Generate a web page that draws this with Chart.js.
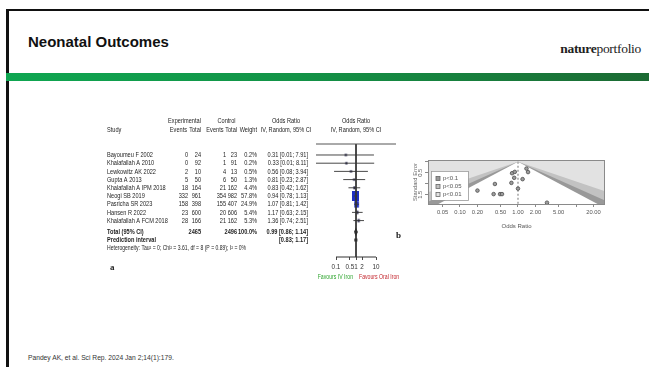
<!DOCTYPE html>
<html>
<head>
<meta charset="utf-8">
<title>Neonatal Outcomes</title>
<script src="https://cdn.jsdelivr.net/npm/chart.js@4.4.1/dist/chart.umd.min.js"></script>
<style>
  html, body { margin: 0; padding: 0; background: #fff; width: 649px; height: 367px; overflow: hidden; }
  #slide { position: relative; width: 649px; height: 367px; font-family: "Liberation Sans", Arial, sans-serif; }
  .frame-top { position: absolute; left: 6px; top: 9px; width: 643px; height: 2px; background: #111; }
  .frame-left { position: absolute; left: 6px; top: 9px; width: 3px; height: 358px; background: #111; }
  h1 { position: absolute; left: 28px; top: 33px; margin: 0; font: bold 15px "Liberation Sans", Arial, sans-serif; color: #111; }
  .logo { position: absolute; right: 8px; top: 41px; font: 13.5px "Liberation Serif", "Times New Roman", serif; color: #222; letter-spacing: -0.3px; }
  .logo b { font-weight: bold; }
  .bar { position: absolute; left: 6px; top: 73px; width: 643px; height: 8px; background: linear-gradient(90deg, #0fa651 0%, #139347 45%, #1c6a33 100%); }
  canvas { position: absolute; }
  #forest { left: 100px; top: 110px; }
  #funnel { left: 395px; top: 150px; }
  .tag { position: absolute; font: bold 9px "Liberation Serif", "Times New Roman", serif; color: #222; }
  .cite { position: absolute; left: 28px; top: 354px; font: 6.7px "Liberation Sans", Arial, sans-serif; color: #333; }
</style>
</head>
<body>
<div id="slide">
  <div class="frame-top"></div>
  <div class="frame-left"></div>
  <h1>Neonatal Outcomes</h1>
  <div class="logo"><b>nature</b>portfolio</div>
  <div class="bar"></div>
  <canvas id="forest" width="310" height="190"></canvas>
  <canvas id="funnel" width="220" height="81"></canvas>
  <div class="tag" style="left:110px; top:262px;">a</div>
  <div class="tag" style="left:396px; top:230px;">b</div>
  <div class="cite">Pandey AK, et al. Sci Rep. 2024 Jan 2;14(1):179.</div>
</div>

<script>
// ---- forest plot data (IV iron vs oral iron) ----
const studyNames = ["Bayoumeu F 2002", "Khalafallah A 2010", "Lewkowitz AK 2022", "Gupta A 2013",
  "Khalafallah A IPM 2018", "Neogi SB 2019", "Pasricha SR 2023", "Hansen R 2022", "Khalafallah A FCM 2018"];
const expEvents  = [0, 0, 2, 5, 18, 332, 158, 23, 28];
const expTotal   = [24, 92, 10, 50, 164, 961, 398, 600, 166];
const ctrlEvents = [1, 1, 4, 6, 21, 354, 155, 20, 21];
const ctrlTotal  = [23, 91, 13, 50, 162, 982, 407, 606, 162];
const weightPct  = [0.2, 0.2, 0.5, 1.3, 4.4, 57.8, 24.9, 5.4, 5.3];
const oddsRatio  = [0.31, 0.33, 0.56, 0.81, 0.83, 0.94, 1.07, 1.17, 1.36];
const ciLower    = [0.01, 0.01, 0.08, 0.23, 0.42, 0.78, 0.81, 0.63, 0.74];
const ciUpper    = [7.91, 8.11, 3.94, 2.87, 1.62, 1.13, 1.42, 2.15, 2.51];

const pooledOR = 0.99, pooledLower = 0.86, pooledUpper = 1.14;
const predLower = 0.83, predUpper = 1.17;
const totalExp = 2465, totalCtrl = 2496, totalWeight = 100.0;
const heterogeneityText = "Heterogeneity: Tau\u00B2 = 0; Chi\u00B2 = 3.61, df = 8 (P = 0.89); I\u00B2 = 0%";

const forestTicks = [0.1, 0.5, 1, 2, 10];

// ---- funnel plot data ----
const funnelOR = [0.79, 0.88, 1.40, 1.49, 0.86, 1.20, 0.77, 0.40, 1.00, 0.20, 0.38, 0.49, 0.53, 3.16];
const funnelSE = [0.52, 0.46, 0.31, 0.47, 0.73, 0.79, 0.96, 1.01, 1.22, 1.31, 1.47, 1.47, 1.47, 1.86];
const funnelCentre = 1.0;
const funnelTicks = [0.05, 0.1, 0.2, 0.5, 1, 2, 5, 10, 20];
const funnelTickLabels = ["0.05", "0.10", "0.20", "0.50", "1.00", "2.00", "5.00", "", "20.00"];
const seTicks = [0, 0.5, 1, 1.5];
const seTickLabels = ["", "0.5", "", "1.5"];
const contourZ = [1.645, 1.96, 2.576];
const contourLabels = ["p<0.1", "p<0.05", "p<0.01"];
const contourColors = ["#999999", "#c2c2c2", "#e2e2e2"];

// ---- row layout of the forest plot (in row units) ----
const rowTop = -1.34, rowAxis = 12.44;
const rowTotal = 9.39, rowPred = 10.37, rowHet = 11.34;
const rowHead1 = -4.15, rowHead2 = -3.05;

const FONT = '"Liberation Sans", Arial, sans-serif';
const INK = "#1e1e1e";

function condText(ctx, str, x, y, align, size, bold, color, sx) {
  ctx.save();
  ctx.font = (bold ? "bold " : "") + size + "px " + FONT;
  ctx.fillStyle = color || INK;
  ctx.textBaseline = "middle";
  ctx.textAlign = align;
  ctx.translate(x, y);
  ctx.scale(sx || 0.72, 1);
  ctx.fillText(str, 0, 0);
  ctx.restore();
}

// weight-scaled study boxes (slightly taller than wide, as printed)
function boxGlyph(w) {
  const k = Math.sqrt(w / 57.8);
  const bw = Math.max(2.2, 7 * k), bh = Math.max(2.2, 10 * k);
  const c = document.createElement("canvas");
  c.width = Math.ceil(bw) + 2; c.height = Math.ceil(bh) + 2;
  const g = c.getContext("2d");
  g.fillStyle = w > 10 ? "#1f2fc2" : "#1a1a40";
  g.fillRect((c.width - bw) / 2, (c.height - bh) / 2, bw, bh);
  if (w > 10) {
    g.fillStyle = "rgba(130,150,255,0.6)";
    g.fillRect(c.width / 2 - 0.7, c.height / 2 - 0.7, 1.4, 1.4);
  }
  return c;
}
const studyGlyphs = weightPct.map(boxGlyph);

const fmt2 = v => v.toFixed(2);
const ciLabel = (o, l, u) => fmt2(o) + " [" + fmt2(l) + "; " + fmt2(u) + "]";

// text columns of the forest table, placed on the chart's own row scale
const forestTable = {
  id: "forestTable",
  afterDraw(chart) {
    const ctx = chart.ctx, y = chart.scales.y, x = chart.scales.x, a = chart.chartArea;
    const S = 7.8;
    const col = { study: 7, expE: 88, expT: 101, ctlE: 126, ctlT: 137, w: 157, ci: 208, ciMid: 186 };
    const h1 = y.getPixelForValue(rowHead1), h2 = y.getPixelForValue(rowHead2);
    const plotMid = x.getPixelForValue(1);
    condText(ctx, "Experimental", 84.5, h1, "center", S, false);
    condText(ctx, "Control", (col.ctlE + col.ctlT) / 2 - 5, h1, "center", S, false);
    condText(ctx, "Odds Ratio", col.ciMid, h1, "center", S, false);
    condText(ctx, "Odds Ratio", plotMid, h1, "center", S, false);
    condText(ctx, "Study", col.study, h2, "left", S, false);
    condText(ctx, "Events", col.expE - 1, h2, "right", S, false);
    condText(ctx, "Total", col.expT, h2, "right", S, false);
    condText(ctx, "Events", col.ctlE - 2.5, h2, "right", S, false);
    condText(ctx, "Total", col.ctlT, h2, "right", S, false);
    condText(ctx, "Weight", col.w, h2, "right", S, false);
    condText(ctx, "IV, Random, 95% CI", col.ciMid, h2, "center", S, false);
    condText(ctx, "IV, Random, 95% CI", plotMid, h2, "center", S, false);

    studyNames.forEach((name, i) => {
      const py = y.getPixelForValue(i);
      condText(ctx, name, col.study, py, "left", S, false);
      condText(ctx, String(expEvents[i]), col.expE, py, "right", S, false);
      condText(ctx, String(expTotal[i]), col.expT, py, "right", S, false);
      condText(ctx, String(ctrlEvents[i]), col.ctlE, py, "right", S, false);
      condText(ctx, String(ctrlTotal[i]), col.ctlT, py, "right", S, false);
      condText(ctx, weightPct[i].toFixed(1) + "%", col.w, py, "right", S, false);
      condText(ctx, ciLabel(oddsRatio[i], ciLower[i], ciUpper[i]), col.ci, py, "right", S, false);
    });

    const pt = y.getPixelForValue(rowTotal);
    condText(ctx, "Total (95% CI)", col.study, pt, "left", S, true);
    condText(ctx, String(totalExp), col.expT, pt, "right", S, true);
    condText(ctx, String(totalCtrl), col.ctlT, pt, "right", S, true);
    condText(ctx, totalWeight.toFixed(1) + "%", col.w, pt, "right", S, true);
    condText(ctx, ciLabel(pooledOR, pooledLower, pooledUpper), col.ci, pt, "right", S, true);
    const pp = y.getPixelForValue(rowPred);
    condText(ctx, "Prediction interval", col.study, pp, "left", S, true);
    condText(ctx, "[" + fmt2(predLower) + "; " + fmt2(predUpper) + "]", col.ci, pp, "right", S, true);
    condText(ctx, heterogeneityText, col.study, y.getPixelForValue(rowHet), "left", 6.5, false, INK, 0.78);

    const fy = a.bottom + 20;
    condText(ctx, "Favours IV Iron", plotMid - 3, fy, "right", 6.8, false, "#2fa52f", 0.76);
    condText(ctx, "Favours Oral Iron", plotMid + 3, fy, "left", 6.8, false, "#c4262e", 0.76);
  }
};

const seg = (x1, y1, x2, y2) => [{ x: x1, y: y1 }, { x: x2, y: y2 }];
const lineDs = (data, extra) => Object.assign({
  type: "line", data, borderColor: "#2a2a2a", borderWidth: 1, pointRadius: 0, fill: false, clip: false
}, extra || {});

const forestDatasets = [
  lineDs(seg(0.01, rowTop, 100, rowTop), { borderColor: "#555" }),
  lineDs(seg(1, rowTop, 1, rowAxis), { borderColor: "#333" }),
  lineDs(seg(forestTicks[0], rowAxis, forestTicks[forestTicks.length - 1], rowAxis), { borderColor: "#333" })
];
studyNames.forEach((_, i) => {
  forestDatasets.push(lineDs(seg(ciLower[i], i, ciUpper[i], i), { borderColor: "#333", borderWidth: 0.9 }));
});
forestDatasets.push({
  type: "scatter",
  data: oddsRatio.map((v, i) => ({ x: v, y: i })),
  pointStyle: ctx => studyGlyphs[ctx.dataIndex],
  pointRadius: 3,
  clip: false
});
forestDatasets.push(lineDs([
  { x: pooledLower, y: rowTotal }, { x: pooledOR, y: rowTotal - 0.35 },
  { x: pooledUpper, y: rowTotal }, { x: pooledOR, y: rowTotal + 0.35 }, { x: pooledLower, y: rowTotal }
], { fill: "shape", backgroundColor: "#111", borderColor: "#111", borderWidth: 1.2 }));
forestDatasets.push(lineDs(seg(predLower, rowPred, predUpper, rowPred), { borderColor: "#1a1a1a", borderWidth: 3 }));

new Chart(document.getElementById("forest"), {
  type: "scatter",
  data: { datasets: forestDatasets },
  options: {
    responsive: false, animation: false, events: [],
    layout: { padding: { left: 216, right: 14, top: 34, bottom: 0 } },
    plugins: { legend: { display: false }, tooltip: { enabled: false } },
    scales: {
      x: {
        type: "logarithmic", min: 0.01, max: 100,
        afterBuildTicks: s => { s.ticks = forestTicks.map(v => ({ value: v })); },
        afterFit: s => { s.height = 43; },
        ticks: { autoSkip: false, maxRotation: 0, minRotation: 0, padding: 3, color: "#333",
          font: { size: 6.3, family: FONT }, callback: v => String(v) },
        grid: { drawOnChartArea: false, drawTicks: true, tickLength: 3, color: "#333", lineWidth: 0.9 },
        border: { display: false }
      },
      y: { type: "linear", reverse: true, min: rowTop, max: rowAxis, display: false }
    }
  },
  plugins: [forestTable]
});

// ---- contour-enhanced funnel plot ----
const contourShading = {
  id: "contourShading",
  beforeDatasetsDraw(chart) {
    const { ctx, chartArea: a, scales: { x, y } } = chart;
    ctx.save();
    ctx.beginPath(); ctx.rect(a.left, a.top, a.width, a.height); ctx.clip();
    ctx.fillStyle = contourColors[2];
    ctx.fillRect(a.left, a.top, a.width, a.height);
    const far = y.max * 2;
    const order = [2, 1, 0];
    const fills = [contourColors[1], contourColors[0], "#ffffff"];
    order.forEach((k, j) => {
      const z = contourZ[k];
      ctx.beginPath();
      ctx.moveTo(x.getPixelForValue(1), y.getPixelForValue(0));
      ctx.lineTo(x.getPixelForValue(Math.exp(-z * far)), y.getPixelForValue(far));
      ctx.lineTo(x.getPixelForValue(Math.exp(z * far)), y.getPixelForValue(far));
      ctx.closePath();
      ctx.fillStyle = fills[j];
      ctx.fill();
    });
    ctx.restore();
  },
  afterDatasetsDraw(chart) {
    const { ctx, chartArea: a, scales: { y } } = chart;
    ctx.save();
    ctx.strokeStyle = "#8a8a8a"; ctx.lineWidth = 1;
    ctx.strokeRect(a.left + 0.5, a.top + 0.5, a.width - 1, a.height);
    // rotated SE tick labels
    ctx.font = "5.8px " + FONT; ctx.fillStyle = "#555";
    ctx.textAlign = "center"; ctx.textBaseline = "middle";
    seTicks.forEach((v, i) => {
      if (!seTickLabels[i]) return;
      ctx.save();
      ctx.translate(a.left - 7.5, y.getPixelForValue(v));
      ctx.rotate(-Math.PI / 2);
      ctx.fillText(seTickLabels[i], 0, 0);
      ctx.restore();
    });
    // legend
    const lx = a.left + 3, ly = a.top + 11, lw = 37, lh = 29;
    ctx.fillStyle = "#fff"; ctx.fillRect(lx, ly, lw, lh);
    ctx.strokeStyle = "#999"; ctx.lineWidth = 0.8; ctx.strokeRect(lx + 0.5, ly + 0.5, lw, lh);
    ctx.textAlign = "left"; ctx.font = "6px " + FONT; ctx.fillStyle = "#555";
    contourLabels.forEach((t, i) => {
      const ry = ly + 7.5 + i * 8;
      ctx.fillStyle = contourColors[i];
      ctx.fillRect(lx + 5, ry - 2, 4, 4);
      ctx.strokeStyle = "#666"; ctx.strokeRect(lx + 5, ry - 2, 4, 4);
      ctx.fillStyle = "#555";
      ctx.fillText(t, lx + 12, ry + 0.3);
    });
    ctx.restore();
  }
};

new Chart(document.getElementById("funnel"), {
  type: "scatter",
  data: {
    datasets: [
      { type: "line", data: [{ x: funnelCentre, y: 0 }, { x: funnelCentre, y: 2 }], borderColor: "#666",
        borderWidth: 0.9, borderDash: [2, 2], pointRadius: 0, fill: false },
      { data: funnelOR.map((v, i) => ({ x: v, y: funnelSE[i] })), pointRadius: 1.8,
        backgroundColor: "#9d9d9d", borderColor: "#4d4d4d", borderWidth: 0.8 }
    ]
  },
  options: {
    responsive: false, animation: false, events: [],
    layout: { padding: { left: 16, right: 10, top: 10, bottom: 0 } },
    plugins: { legend: { display: false }, tooltip: { enabled: false } },
    scales: {
      x: {
        type: "logarithmic", min: 0.0281, max: 31.6,
        afterBuildTicks: s => { s.ticks = funnelTicks.map(v => ({ value: v })); },
        afterFit: s => { s.height = 27; },
        ticks: { autoSkip: false, maxRotation: 0, minRotation: 0, padding: 2, color: "#555",
          font: { size: 5.8, family: FONT }, callback: (v, i) => funnelTickLabels[i] },
        grid: { drawOnChartArea: false, tickLength: 3, color: "#8a8a8a" },
        border: { display: false },
        title: { display: true, text: "Odds Ratio", color: "#555", font: { size: 6, family: FONT },
          padding: { top: 0, bottom: 1 } }
      },
      y: {
        type: "linear", reverse: true, min: -0.08, max: 1.92,
        afterBuildTicks: s => { s.ticks = seTicks.map(v => ({ value: v })); },
        afterFit: s => { s.width = 17; },
        ticks: { display: false },
        grid: { drawOnChartArea: false, tickLength: 3, color: "#8a8a8a" },
        border: { display: false },
        title: { display: true, text: "Standard Error", color: "#666", font: { size: 5.8, family: FONT },
          padding: { top: 0.5, bottom: 0 } }
      }
    }
  },
  plugins: [contourShading]
});
</script>
</body>
</html>
